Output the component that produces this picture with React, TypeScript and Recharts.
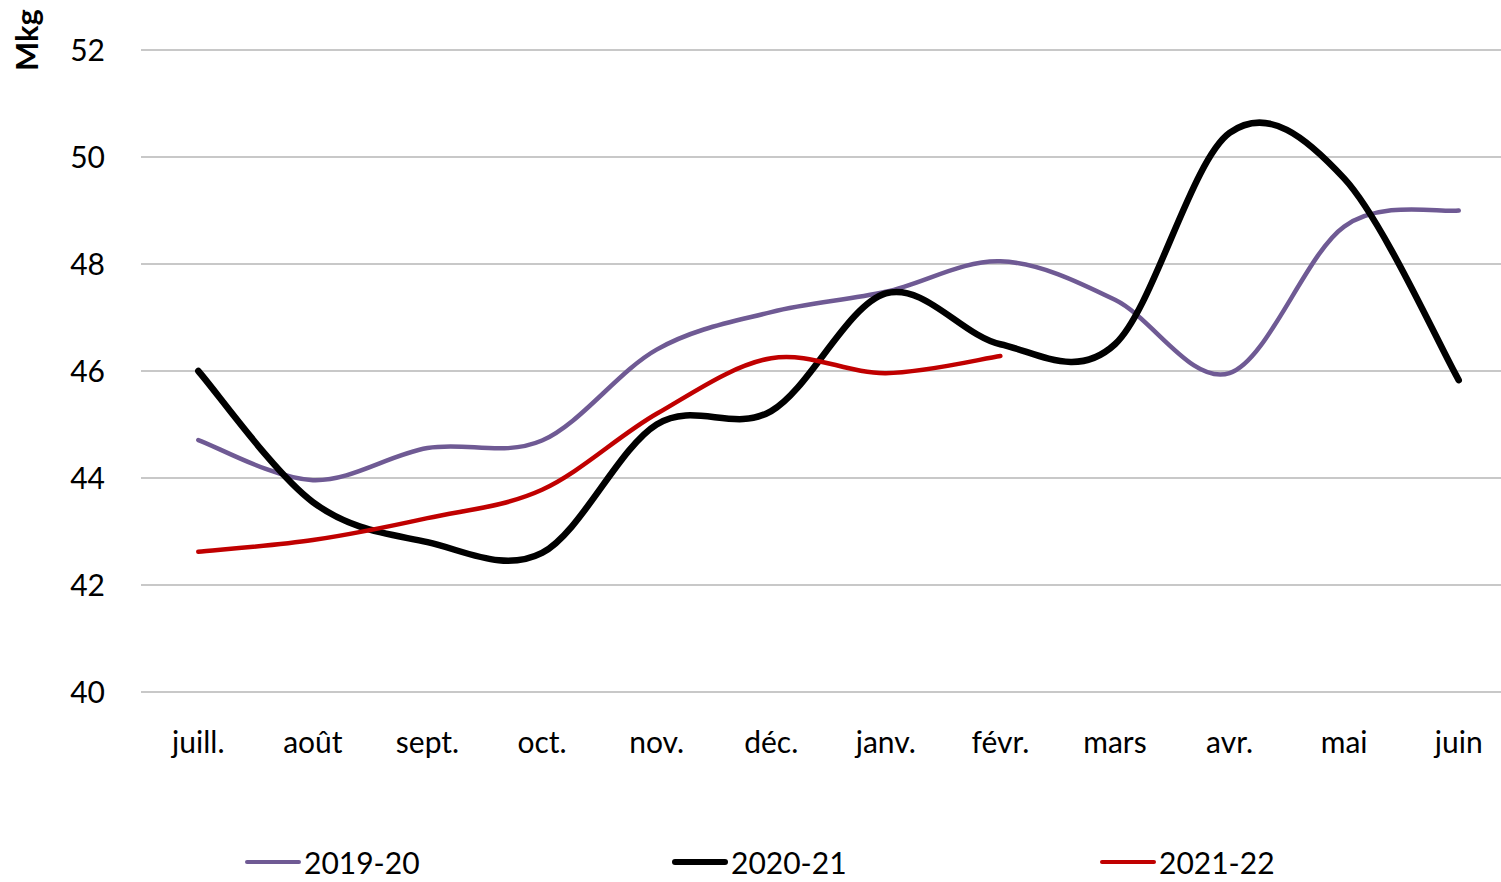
import React from "react";
import { LineChart, Line, XAxis, YAxis, CartesianGrid, Legend } from "recharts";

const months = ["juill.", "août", "sept.", "oct.", "nov.", "déc.", "janv.", "févr.", "mars", "avr.", "mai", "juin"];
const s2019 = [44.71, 43.96, 44.56, 44.7, 46.4, 47.1, 47.48, 48.05, 47.33, 45.96, 48.7, 49.0];
const s2020 = [46.0, 43.55, 42.8, 42.6, 45.0, 45.25, 47.45, 46.5, 46.5, 50.45, 49.6, 45.83];
const s2021 = [42.62, 42.84, 43.25, 43.78, 45.2, 46.24, 45.96, 46.28, null, null, null, null];
const yTicks = [40, 42, 44, 46, 48, 50, 52];

const series = [
  { key: "2019-20", color: "#6f5a94", width: 4.5 },
  { key: "2020-21", color: "#000000", width: 6.5 },
  { key: "2021-22", color: "#c00000", width: 4.5 },
];

const data = months.map((m, i) => ({
  month: m,
  "2019-20": s2019[i],
  "2020-21": s2020[i],
  "2021-22": s2021[i],
}));

const FONT = "Lato, 'Open Sans', sans-serif";

// smoothed line like the spreadsheet one (cubic bezier, catmull-rom tangents)
function smoothCurve(context: any) {
  let pts: number[][] = [];
  return {
    areaStart() {},
    areaEnd() {},
    lineStart() { pts = []; },
    point(x: number, y: number) { pts.push([+x, +y]); },
    lineEnd() {
      const n = pts.length;
      if (!n) return;
      context.moveTo(pts[0][0], pts[0][1]);
      if (n === 1) { context.lineTo(pts[0][0], pts[0][1]); return; }
      for (let i = 0; i < n - 1; i++) {
        const p0 = pts[Math.max(i - 1, 0)];
        const p1 = pts[i];
        const p2 = pts[i + 1];
        const p3 = pts[Math.min(i + 2, n - 1)];
        context.bezierCurveTo(
          p1[0] + (p2[0] - p0[0]) / 6, p1[1] + (p2[1] - p0[1]) / 6,
          p2[0] - (p3[0] - p1[0]) / 6, p2[1] - (p3[1] - p1[1]) / 6,
          p2[0], p2[1]
        );
      }
    },
  };
}

function renderLegend() {
  const lefts = [245, 672, 1100];
  return (
    <div style={{ position: "relative", width: 1501, height: 34 }}>
      {series.map((s, i) => (
        <div key={s.key} style={{ position: "absolute", left: lefts[i], top: 0, height: 34, display: "flex", alignItems: "center" }}>
          <div style={{ width: 56, height: s.width, background: s.color, borderRadius: 3, marginRight: 3 }} />
          <span style={{ fontFamily: FONT, fontSize: 30, lineHeight: "34px", color: "#000" }}>{s.key}</span>
        </div>
      ))}
    </div>
  );
}

function MkgLabel() {
  return (
    <text x={38} y={40} transform="rotate(-90 38 40)" textAnchor="middle" fontFamily={FONT} fontWeight={700} fontSize={31} fill="#000">
      Mkg
    </text>
  );
}

export default function App() {
  return (
    <div style={{ position: "absolute", left: 0, top: 0, width: 1501, height: 882, overflow: "hidden", background: "#fff" }}>
      <LineChart width={1516} height={882} data={data} margin={{ top: 50, right: 0, bottom: 0, left: 0 }}>
        <CartesianGrid vertical={false} stroke="#c8c8c8" strokeWidth={2} />
        <XAxis
          dataKey="month"
          scale="band"
          height={156}
          tickLine={false}
          axisLine={{ stroke: "#c8c8c8", strokeWidth: 2 }}
          tickMargin={34}
          tick={{ fontFamily: FONT, fontSize: 30, fill: "#000" }}
          interval={0}
        />
        <YAxis
          width={141}
          domain={[40, 52]}
          ticks={yTicks}
          tickLine={false}
          axisLine={false}
          tickSize={0}
          tickMargin={36}
          tick={{ fontFamily: FONT, fontSize: 30, fill: "#000" }}
          label={<MkgLabel />}
        />
        <Legend content={renderLegend} wrapperStyle={{ left: 0, top: 845, width: 1501, height: 34 }} />
        {series.map((s) => (
          <Line
            key={s.key}
            dataKey={s.key}
            type={smoothCurve as any}
            stroke={s.color}
            strokeWidth={s.width}
            strokeLinecap="round"
            dot={false}
            activeDot={false}
            isAnimationActive={false}
          />
        ))}
      </LineChart>
    </div>
  );
}
